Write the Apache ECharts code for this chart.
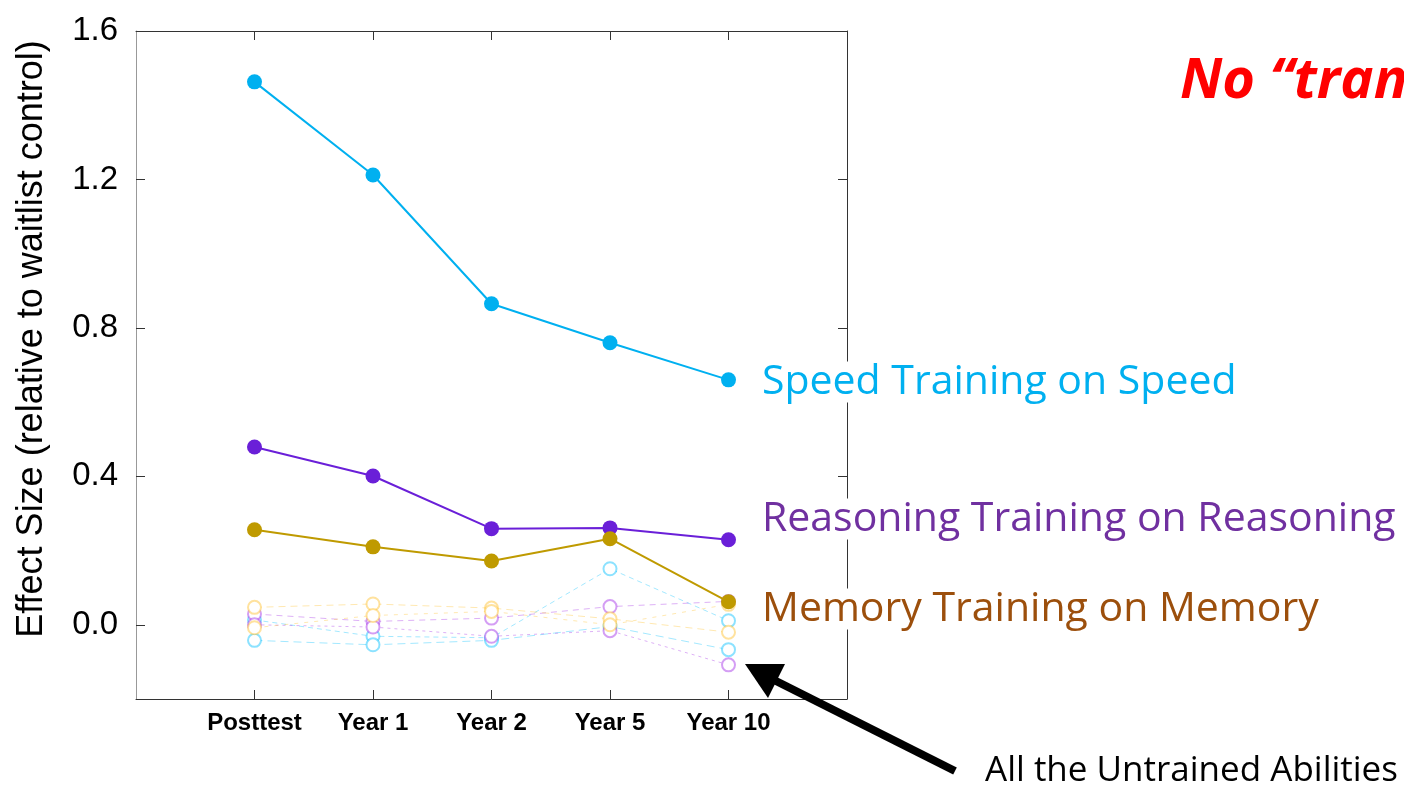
<!DOCTYPE html>
<html>
<head>
<meta charset="utf-8">
<script src="https://cdn.jsdelivr.net/npm/echarts@6/dist/echarts.min.js"></script>
<style>
  html, body { margin: 0; padding: 0; background: #fff; }
  #chart { width: 1404px; height: 785px; }
</style>
</head>
<body>
<div id="chart"></div>
<script>
const timepoints = ['Posttest', 'Year 1', 'Year 2', 'Year 5', 'Year 10']
const yTicks = [0, 0.4, 0.8, 1.2, 1.6]

// trained abilities
const speedOnSpeed = [1.463, 1.212, 0.865, 0.760, 0.660]
const reasoningOnReasoning = [0.479, 0.401, 0.259, 0.261, 0.229]
const memoryOnMemory = [0.256, 0.210, 0.172, 0.232, 0.062]

// untrained abilities (two per training group)
const speedUntrainedA = [0.013, -0.031, -0.035, 0.151, 0.011]
const speedUntrainedB = [-0.042, -0.054, -0.042, -0.005, -0.067]
const reasoningUntrainedA = [0.029, 0.009, 0.018, 0.049, 0.063]
const reasoningUntrainedB = [0.000, -0.006, -0.031, -0.016, -0.108]
const memoryUntrainedA = [0.047, 0.056, 0.045, 0.016, -0.020]
const memoryUntrainedB = [-0.008, 0.025, 0.036, 0.000, 0.055]

const cyan = '#00B0F0'
const purple = '#6A1FD8'
const gold = '#BF9A00'

const toPoints = values => values.map((v, i) => [i + 1, v])

function trainedSeries(name, values, color) {
  return {
    name,
    type: 'line',
    data: toPoints(values),
    symbol: 'circle',
    symbolSize: 15,
    z: 5,
    lineStyle: { width: 2, color },
    itemStyle: { color }
  }
}

function untrainedSeries(name, values, color, dash) {
  return {
    name,
    type: 'line',
    data: toPoints(values),
    symbol: 'emptyCircle',
    symbolSize: 13,
    z: 2,
    lineStyle: { width: 1, color, type: dash, opacity: 0.8 },
    itemStyle: { color, borderColor: color, borderWidth: 1 }
  }
}

const chart = echarts.init(document.getElementById('chart'))

const tickStyle = { show: true, inside: true, length: 9, lineStyle: { color: '#333', width: 1 } }

chart.setOption({
  animation: false,
  backgroundColor: '#fff',
  grid: { left: 136, right: 557, top: 31, bottom: 86 },
  xAxis: [
    {
      type: 'value',
      position: 'bottom',
      min: 0,
      max: 6,
      axisLine: { show: true, onZero: false, lineStyle: { color: '#333', width: 1 } },
      axisTick: Object.assign({ customValues: [1, 2, 3, 4, 5] }, tickStyle),
      splitLine: { show: false },
      axisLabel: {
        customValues: [1, 2, 3, 4, 5],
        formatter: v => timepoints[v - 1] || '',
        fontFamily: 'Liberation Sans',
        fontWeight: 'bold',
        fontSize: 24,
        color: '#000',
        margin: 12
      }
    },
    {
      type: 'value',
      position: 'top',
      min: 0,
      max: 6,
      axisLine: { show: true, onZero: false, lineStyle: { color: '#333', width: 1 } },
      axisTick: Object.assign({ customValues: [1, 2, 3, 4, 5] }, tickStyle),
      splitLine: { show: false },
      axisLabel: { show: false }
    }
  ],
  yAxis: [
    {
      type: 'value',
      position: 'left',
      min: -0.2,
      max: 1.6,
      name: 'Effect Size (relative to waitlist control)',
      nameLocation: 'middle',
      nameRotate: 90,
      nameGap: 86,
      nameTextStyle: {
        fontFamily: 'Liberation Sans',
        fontSize: 36,
        color: '#000',
        padding: [0, 0, 0, 52]
      },
      axisLine: { show: true, onZero: false, lineStyle: { color: '#999', width: 1 } },
      axisTick: Object.assign({ customValues: yTicks }, tickStyle),
      splitLine: { show: false },
      axisLabel: {
        customValues: yTicks,
        formatter: v => v.toFixed(1),
        fontFamily: 'Liberation Sans',
        fontSize: 33,
        color: '#000',
        margin: 18
      }
    },
    {
      type: 'value',
      position: 'right',
      min: -0.2,
      max: 1.6,
      axisLine: { show: true, onZero: false, lineStyle: { color: '#333', width: 1 } },
      axisTick: Object.assign({ customValues: yTicks }, tickStyle),
      splitLine: { show: false },
      axisLabel: { show: false }
    }
  ],
  series: [
    untrainedSeries('Speed group, untrained A', speedUntrainedA, 'rgba(0,190,255,0.45)', [5, 4]),
    untrainedSeries('Speed group, untrained B', speedUntrainedB, 'rgba(0,190,255,0.45)', [8, 5]),
    untrainedSeries('Reasoning group, untrained A', reasoningUntrainedA, 'rgba(160,40,230,0.45)', [6, 5]),
    untrainedSeries('Reasoning group, untrained B', reasoningUntrainedB, 'rgba(160,40,230,0.45)', [3, 4]),
    untrainedSeries('Memory group, untrained A', memoryUntrainedA, 'rgba(255,190,40,0.45)', [7, 5]),
    untrainedSeries('Memory group, untrained B', memoryUntrainedB, 'rgba(255,190,40,0.45)', [4, 6]),
    trainedSeries('Speed Training on Speed', speedOnSpeed, cyan),
    trainedSeries('Reasoning Training on Reasoning', reasoningOnReasoning, purple),
    trainedSeries('Memory Training on Memory', memoryOnMemory, gold)
  ],
  graphic: [
    {
      type: 'text',
      x: 1180,
      y: 82,
      style: {
        text: 'No \u201ctransfer\u201d',
        fill: '#FF0000',
        font: 'italic bold 56px "Open Sans"',
        verticalAlign: 'middle'
      }
    },
    {
      type: 'text',
      x: 756,
      y: 382,
      z: 20,
      style: {
        text: 'Speed Training on Speed',
        fill: '#00B0F0',
        font: '41px "Open Sans"',
        verticalAlign: 'middle',
        backgroundColor: '#fff',
        padding: [0, 6]
      }
    },
    {
      type: 'text',
      x: 756,
      y: 519,
      z: 20,
      style: {
        text: 'Reasoning Training on Reasoning',
        fill: '#7030A0',
        font: '41px "Open Sans"',
        verticalAlign: 'middle',
        backgroundColor: '#fff',
        padding: [0, 6]
      }
    },
    {
      type: 'text',
      x: 756,
      y: 609,
      z: 20,
      style: {
        text: 'Memory Training on Memory',
        fill: '#9C4F0C',
        font: '41px "Open Sans"',
        verticalAlign: 'middle',
        backgroundColor: '#fff',
        padding: [0, 6]
      }
    },
    {
      type: 'text',
      x: 985,
      y: 771,
      z: 20,
      style: {
        text: 'All the Untrained Abilities',
        fill: '#000',
        font: '35px "Open Sans"',
        verticalAlign: 'middle'
      }
    },
    {
      type: 'line',
      z: 30,
      shape: { x1: 955, y1: 771, x2: 774, y2: 680 },
      style: { stroke: '#000', lineWidth: 8 }
    },
    {
      type: 'polygon',
      z: 30,
      shape: { points: [[745, 664], [785, 664], [768, 698]] },
      style: { fill: '#000' }
    }
  ]
})
</script>
</body>
</html>
